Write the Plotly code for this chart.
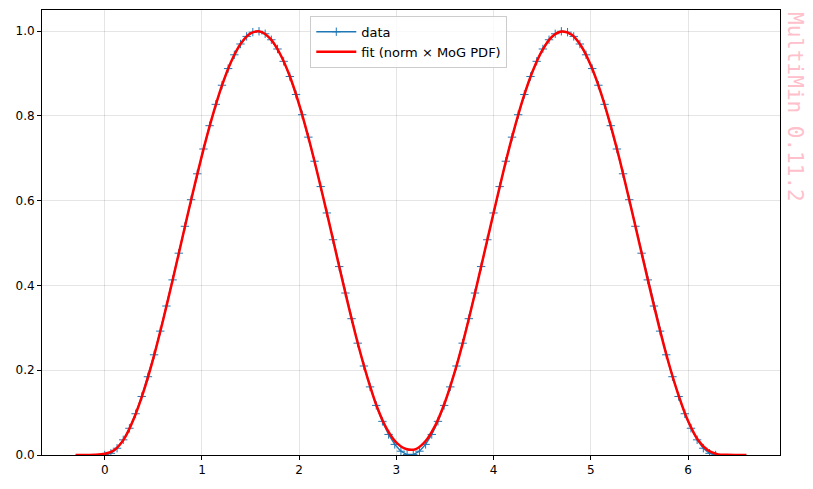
import plotly.graph_objects as go

# data: 100 samples on [0, 2*pi]
step = 6.283185 / 99
data_x = [round(k * step, 4) for k in range(100)]
half_y = [0.0000, 0.0040, 0.0160, 0.0358, 0.0631, 0.0973, 0.1381, 0.1847, 0.2364, 0.2923,
          0.3515, 0.4132, 0.4762, 0.5397, 0.6024, 0.6635, 0.7220, 0.7770, 0.8274, 0.8725,
          0.9118, 0.9443, 0.9698, 0.9877, 0.9977, 0.9998, 0.9939, 0.9798, 0.9580, 0.9289,
          0.8930, 0.8507, 0.8029, 0.7500, 0.6932, 0.6333, 0.5711, 0.5079, 0.4446, 0.3822,
          0.3216, 0.2639, 0.2100, 0.1607, 0.1170, 0.0794, 0.0485, 0.0250, 0.0090, 0.0010]
data_y = half_y + half_y[::-1]

fit_x = [round(-0.3 + 0.1 * i, 1) for i in range(70)]
fit_y = [0.0000, 0.0000, 0.0005, 0.0030, 0.0120, 0.0380, 0.0860, 0.1500, 0.2280, 0.3180,
         0.4140, 0.5140, 0.6130, 0.7070, 0.7930, 0.8680, 0.9280, 0.9710, 0.9950, 0.9990,
         0.9830, 0.9480, 0.8960, 0.8270, 0.7450, 0.6530, 0.5560, 0.4560, 0.3580, 0.2660,
         0.1840, 0.1140, 0.0620, 0.0290, 0.0140, 0.0140, 0.0330, 0.0700, 0.1250, 0.1960,
         0.2800, 0.3740, 0.4730, 0.5720, 0.6690, 0.7590, 0.8390, 0.9050, 0.9550, 0.9870,
         0.9990, 0.9920, 0.9650, 0.9190, 0.8570, 0.7800, 0.6930, 0.5970, 0.4980, 0.3990,
         0.3040, 0.2170, 0.1420, 0.0800, 0.0360, 0.0120, 0.0020, 0.0003, 0.0000, 0.0000]

x_ticks = [0, 1, 2, 3, 4, 5, 6]
y_ticks = [0.0, 0.2, 0.4, 0.6, 0.8, 1.0]

fig = go.Figure()
fig.add_trace(go.Scatter(
    x=data_x, y=data_y, mode="lines+markers", name="data",
    line=dict(color="#1f77b4", width=1.5),
    marker=dict(symbol="cross-thin-open", size=6, line=dict(color="#1f77b4", width=1)),
))
fig.add_trace(go.Scatter(
    x=fit_x, y=fit_y, mode="lines", name="fit (norm × MoG PDF)",
    line=dict(color="red", width=2.5, shape="spline", smoothing=0.8),
))

axis_common = dict(
    showline=True, linecolor="black", linewidth=1, mirror=True,
    ticks="outside", ticklen=4, tickcolor="black",
    showgrid=True, gridcolor="rgba(0,0,0,0.1)", gridwidth=1,
    zeroline=False, tickfont=dict(family="DejaVu Sans", size=12, color="black"),
)
fig.update_xaxes(range=[-0.645, 6.945], tickvals=x_ticks,
                 ticktext=[str(t) for t in x_ticks], **axis_common)
fig.update_yaxes(range=[0, 1.05], tickvals=y_ticks,
                 ticktext=[f"{t:.1f}" for t in y_ticks], **axis_common)

fig.update_layout(
    width=805, height=481,
    margin=dict(l=34, r=33, t=2, b=34),
    plot_bgcolor="white", paper_bgcolor="white",
    font=dict(family="DejaVu Sans", size=13, color="black"),
    legend=dict(x=0.497, y=0.987, xanchor="center", yanchor="top",
                bgcolor="rgba(255,255,255,0.8)", bordercolor="#cccccc", borderwidth=1,
                itemwidth=40, font=dict(size=13)),
    annotations=[dict(
        text="MultiMin 0.11.2", xref="paper", yref="paper", x=1.0203, y=1.0,
        xanchor="center", yanchor="top", showarrow=False, textangle=90,
        font=dict(family="DejaVu Sans Mono", size=21, color="pink"),
    )],
)

fig.write_html("out.html")
